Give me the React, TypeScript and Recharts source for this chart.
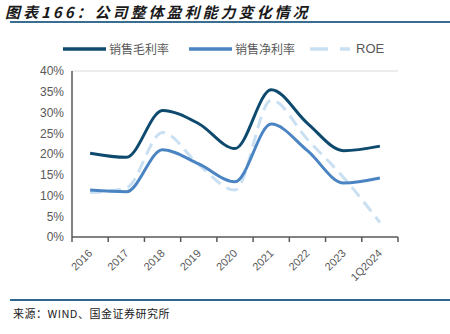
import React from 'react';
import { LineChart, Line, XAxis, YAxis, ReferenceLine } from 'recharts';

const years = ['2016', '2017', '2018', '2019', '2020', '2021', '2022', '2023', '1Q2024'];
const grossMargin = [20.2, 19.2, 30.5, 27.3, 21.3, 35.5, 27.4, 20.8, 21.9];
const netMargin = [11.3, 10.9, 21.0, 17.6, 13.3, 27.2, 20.8, 13.0, 14.2];
const roe = [10.7, 11.8, 25.2, 17.4, 11.3, 33.0, 23.5, 14.3, 3.5];
const yTicks = [0, 5, 10, 15, 20, 25, 30, 35, 40];
// labels sit on the category centres, tick marks on the boundaries between them
const xTicks = [-0.5, 0, 0.5, 1, 1.5, 2, 2.5, 3, 3.5, 4, 4.5, 5, 5.5, 6, 6.5, 7, 7.5, 8, 8.5];

const series = [
  { key: 'gross', name: '销售毛利率', color: '#0e4a6e', dash: undefined as string | undefined },
  { key: 'net', name: '销售净利率', color: '#4a84c2', dash: undefined as string | undefined },
  { key: 'roe', name: 'ROE', color: '#c9dff2', dash: '12 7' },
];

const data = years.map((y, i) => ({
  idx: i,
  year: y,
  gross: grossMargin[i],
  net: netMargin[i],
  roe: roe[i],
}));

const LABEL_FONT = '"Liberation Sans", Arial, sans-serif';
const CJK_FONT = '"Noto Sans CJK SC", "Liberation Sans", sans-serif';
const TICK_SIZE = 6;
const TICK_MARGIN = 2;

const XTick = (props: any) => {
  const { x, y, payload } = props;
  const v = payload.value as number;
  if (!Number.isInteger(v)) {
    const axisY = y - TICK_SIZE - TICK_MARGIN;
    return <line x1={x} x2={x} y1={axisY} y2={axisY + 5} stroke="#595959" strokeWidth={1.5} />;
  }
  const px = x + 3;
  const py = y + 9;
  return (
    <text
      x={px}
      y={py}
      textAnchor="end"
      transform={`rotate(-45, ${px}, ${py})`}
      fill="#595959"
      fontSize={11}
      fontFamily={LABEL_FONT}
    >
      {years[v]}
    </text>
  );
};

const App: React.FC = () => {
  return (
    <div style={{ position: 'absolute', left: 0, top: 0, width: 450, height: 334, background: '#fff' }}>
      <div
        style={{
          position: 'absolute', left: 5, top: 1, fontSize: 15, fontWeight: 'bold', fontStyle: 'italic',
          fontFamily: CJK_FONT, color: '#1a1a1a', letterSpacing: 3,
        }}
      >
        图表166：公司整体盈利能力变化情况
      </div>
      <div style={{ position: 'absolute', left: 10, top: 21, width: 440, height: 2, background: '#3a6d92' }} />

      <div style={{ position: 'absolute', left: 63, top: 40, display: 'flex', alignItems: 'center', fontFamily: CJK_FONT, fontSize: 12, color: '#595959' }}>
        {series.map((s, i) => (
          <div key={s.key} style={{ display: 'flex', alignItems: 'center', marginRight: i === 0 ? 20 : 15 }}>
            <svg width={s.dash ? 40 : 43} height={10}>
              <line x1={0} y1={5} x2={s.dash ? 40 : 43} y2={5} stroke={s.color} strokeWidth={3.5} strokeDasharray={s.dash ? '18 12' : undefined} />
            </svg>
            <span style={{ marginLeft: s.dash ? 6 : 3, fontFamily: s.key === 'roe' ? LABEL_FONT : CJK_FONT, fontSize: s.key === 'roe' ? 13 : 12 }}>{s.name}</span>
          </div>
        ))}
      </div>

      <div style={{ position: 'absolute', left: 0, top: 0 }}>
        <LineChart width={450} height={300} data={data} margin={{ top: 71, right: 52, left: 22, bottom: 0 }}>
          <XAxis
            dataKey="idx"
            type="number"
            domain={[-0.5, 8.5]}
            ticks={xTicks}
            allowDataOverflow
            interval={0}
            tick={<XTick />}
            tickLine={false}
            tickSize={TICK_SIZE}
            tickMargin={TICK_MARGIN}
            axisLine={{ stroke: '#595959', strokeWidth: 1.5 }}
            height={63}
          />
          <YAxis
            domain={[0, 40]}
            ticks={yTicks}
            tickFormatter={(v: number) => `${v}%`}
            tick={{ fill: '#595959', fontSize: 12, fontFamily: LABEL_FONT }}
            tickLine={false}
            axisLine={{ stroke: '#595959', strokeWidth: 1.5 }}
            width={50}
            interval={0}
          />
          <YAxis
            yAxisId="right"
            orientation="right"
            domain={[0, 40]}
            tick={false}
            tickLine={false}
            axisLine={{ stroke: '#d9d9d9' }}
            width={0}
          />
          <ReferenceLine y={40} stroke="#d9d9d9" />
          {series.map((s) => (
            <Line
              key={s.key}
              dataKey={s.key}
              name={s.name}
              type="monotone"
              stroke={s.color}
              strokeWidth={3}
              strokeDasharray={s.dash}
              dot={false}
              activeDot={false}
              isAnimationActive={false}
            />
          )).reverse()}
        </LineChart>
      </div>

      <div style={{ position: 'absolute', left: 10, top: 299, width: 440, height: 1.5, background: '#2f6690' }} />
      <div style={{ position: 'absolute', left: 13, top: 305, fontSize: 11, fontFamily: CJK_FONT, color: '#1a1a1a', letterSpacing: 0.5 }}>
        来源：WIND、国金证券研究所
      </div>
    </div>
  );
};

export default App;
